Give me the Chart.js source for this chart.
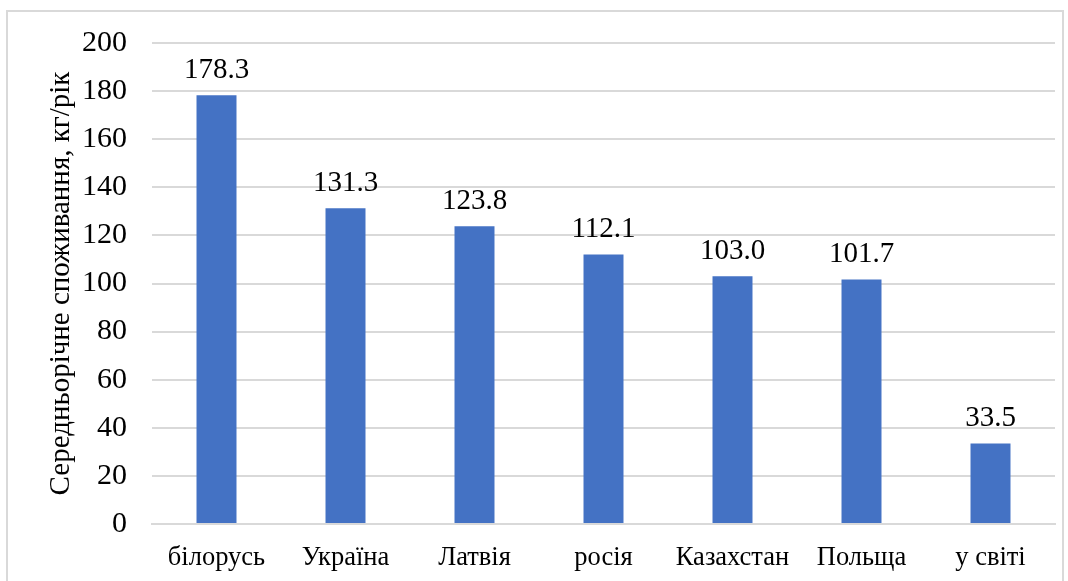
<!DOCTYPE html>
<html>
<head>
<meta charset="utf-8">
<script src="https://cdn.jsdelivr.net/npm/chart.js@4"></script>
<style>
  html, body { margin: 0; padding: 0; background: #fff; overflow: hidden; }
  #frame {
    position: absolute; left: 6px; top: 10px;
    width: 1054px; height: 580px;
    border: 2px solid #d9d9d9;
  }
  #plot { position: absolute; left: 0; top: -12px; width: 1054px; height: 592px; }
  #plot canvas { display: block; }
</style>
</head>
<body>
<div id="frame"><div id="plot"><canvas id="c"></canvas></div></div>
<script>
const countries = ['білорусь', 'Україна', 'Латвія', 'росія', 'Казахстан', 'Польща', 'у світі'];
const consumption = [178.3, 131.3, 123.8, 112.1, 103.0, 101.7, 33.5];
const yTitle = 'Середньорічне споживання, кг/рік';

const FONT = '"Liberation Serif", "Times New Roman", serif';
const BAR = '#4472c4';

const valueLabels = {
  id: 'valueLabels',
  afterDatasetsDraw(chart) {
    const { ctx } = chart;
    const bars = chart.getDatasetMeta(0).data;
    ctx.save();
    ctx.fillStyle = '#000';
    ctx.font = '29px ' + FONT;
    ctx.textAlign = 'center';
    ctx.textBaseline = 'alphabetic';
    bars.forEach((bar, i) => {
      ctx.fillText(consumption[i].toFixed(1), bar.x, bar.y - 17);
    });
    ctx.restore();
  },
};

new Chart(document.getElementById('c'), {
  type: 'bar',
  data: {
    labels: countries,
    datasets: [{
      data: consumption,
      backgroundColor: BAR,
      barPercentage: 0.31,
      categoryPercentage: 1,
    }],
  },
  plugins: [valueLabels],
  options: {
    responsive: true,
    maintainAspectRatio: false,
    animation: false,
    layout: { padding: { top: 22, right: 7, left: 0, bottom: 0 } },
    plugins: { legend: { display: false }, tooltip: { enabled: false } },
    scales: {
      x: {
        grid: { display: false },
        border: { color: '#d9d9d9', width: 2 },
        ticks: { color: '#000', font: { family: FONT, size: 26.5 }, padding: 10 },
        afterFit: (s) => { s.height = 68; },
      },
      y: {
        min: 0, max: 200,
        ticks: { stepSize: 20, color: '#000', font: { family: FONT, size: 30 }, padding: 25 },
        grid: { color: '#d9d9d9', lineWidth: 2, drawTicks: false },
        border: { display: false },
        title: { display: true, text: yTitle, color: '#000', font: { family: FONT, size: 29 }, padding: { top: 36, bottom: 0 } },
        afterFit: (s) => { s.width = 144; },
      },
    },
  },
});
</script>
</body>
</html>
